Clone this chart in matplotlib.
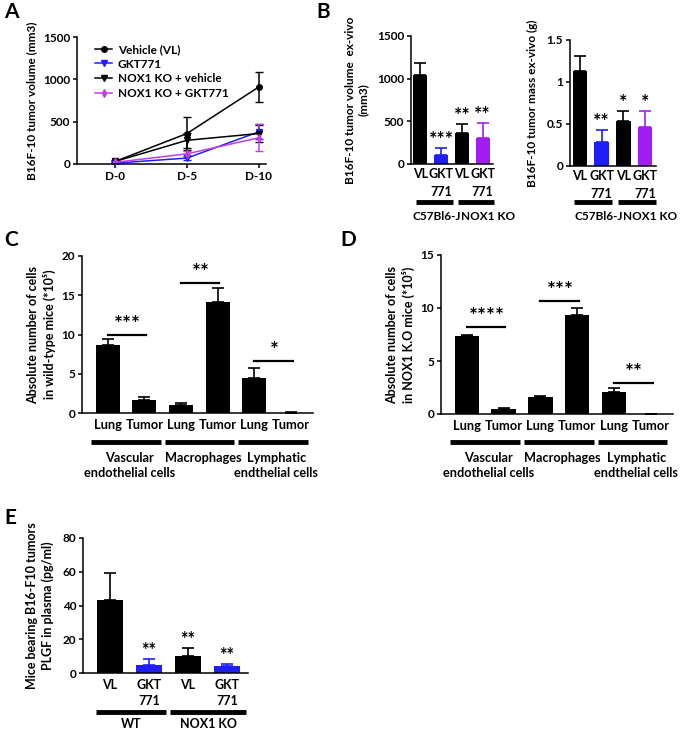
import matplotlib.pyplot as plt
import matplotlib.transforms as mtrans
from matplotlib.lines import Line2D
import numpy as np

# figuren er 681x731 piksler
W, H = 681, 731
plt.rcParams['font.family'] = ['Lato', 'DejaVu Sans']
plt.rcParams['font.weight'] = 'bold'
plt.rcParams['axes.labelweight'] = 'bold'
plt.rcParams['font.size'] = 8.5
plt.rcParams['axes.linewidth'] = 1.1

BLUE = '#1f1ff5'
PURPLE = '#a21ef0'
MAGENTA = '#c13fe0'

# --- data ---
# panel A
dager = [0, 5, 10]
dag_etiketter = ['D-0', 'D-5', 'D-10']
vehicle = [30, 360, 910]
vehicle_err = [15, 200, 175]
gkt = [10, 70, 380]
gkt_err = [8, 20, 90]
ko_vehicle = [30, 280, 360]
ko_vehicle_err = [10, 90, 100]
ko_gkt = [20, 120, 310]
ko_gkt_err = [8, 30, 160]

# panel B
b_etiketter = ['VL', 'GKT\n771', 'VL', 'GKT\n771']
b_volum = [1040, 110, 360, 310]
b_volum_err = [145, 80, 105, 170]
b_volum_stjerner = ['', '***', '**', '**']
b_masse = [1.13, 0.28, 0.53, 0.46]
b_masse_err = [0.18, 0.15, 0.13, 0.20]
b_masse_stjerner = ['', '**', '*', '*']
b_farger = ['black', BLUE, 'black', PURPLE]
b_grupper = ['C57Bl6-J', 'NOX1 KO']

# panel C og D
celle_etiketter = ['Lung', 'Tumor', 'Lung', 'Tumor', 'Lung', 'Tumor']
celle_grupper = [['Vascular', 'endothelial cells'], ['Macrophages'], ['Lymphatic', 'endthelial cells']]
c_verdier = [8.6, 1.6, 1.0, 14.1, 4.4, 0.05]
c_err = [0.8, 0.4, 0.3, 1.8, 1.3, 0.05]
c_sig = [(0, 1, 10.0, '***'), (2, 3, 16.6, '**'), (4, 5, 6.6, '*')]
d_verdier = [7.4, 0.5, 1.6, 9.3, 2.1, 0.0]
d_err = [0.05, 0.1, 0.1, 0.7, 0.4, 0.0]
d_sig = [(0, 1, 8.2, '****'), (2, 3, 10.7, '***'), (4, 5, 2.9, '**')]

# panel E
e_etiketter = ['VL', 'GKT\n771', 'VL', 'GKT\n771']
e_verdier = [43, 5, 10, 4]
e_err = [16, 3.5, 5, 1.5]
e_stjerner = ['', '**', '**', '**']
e_farger = ['black', BLUE, 'black', BLUE]
e_grupper = ['WT', 'NOX1 KO']

fig = plt.figure(figsize=(W / 100, H / 100), dpi=100)


def akse(venstre, topp, hoyre, bunn):
    ax = fig.add_axes([venstre / W, 1 - bunn / H, (hoyre - venstre) / W, (bunn - topp) / H])
    ax.spines['top'].set_visible(False)
    ax.spines['right'].set_visible(False)
    ax.tick_params(length=3, width=1.1, pad=2)
    return ax


def pikselY(ax, y):
    # gjør om figur-piksel y til akse-brøk
    bb = ax.get_position()
    return ((1 - y / H) - bb.y0) / bb.height


def stolper(ax, verdier, feil, farger, stjerner, bredde, stjerne_pad, stjerne_fs=14):
    x = np.arange(len(verdier))
    ax.bar(x, verdier, width=bredde, color=farger, edgecolor=farger, linewidth=0)
    for xi, v, e, f, s in zip(x, verdier, feil, farger, stjerner):
        ax.errorbar(xi, v, yerr=[[0], [e]], color=f, capsize=4, elinewidth=1.2, capthick=1.2)
        if s:
            ax.text(xi, v + e + stjerne_pad, s, ha='center', va='bottom', fontsize=stjerne_fs)
    return x


def grupper(ax, par, y_linje, midt, y_tekst, etiketter):
    tr = mtrans.blended_transform_factory(ax.transData, ax.transAxes)
    for a, b in par:
        ax.plot([a, b], [pikselY(ax, y_linje)] * 2, color='black', lw=3.5,
                transform=tr, clip_on=False, solid_capstyle='butt')
    ax.text(midt, pikselY(ax, y_tekst), etiketter[0], ha='right', va='center', transform=tr)
    ax.text(midt, pikselY(ax, y_tekst), etiketter[1], ha='left', va='center', transform=tr)


# ---------- A ----------
axA = akse(77, 37, 266, 164)
serier = [(vehicle, vehicle_err, 'black', 'o', 'Vehicle (VL)'),
          (gkt, gkt_err, BLUE, 'v', 'GKT771'),
          (ko_vehicle, ko_vehicle_err, 'black', 'v', 'NOX1 KO + vehicle'),
          (ko_gkt, ko_gkt_err, MAGENTA, 'd', 'NOX1 KO + GKT771')]
handles = []
for y, e, c, m, navn in serier:
    axA.errorbar(dager, y, yerr=e, color=c, marker=m, ms=4, capsize=3, lw=1.1)
    handles.append(Line2D([], [], color=c, marker=m, ms=4, lw=1.1, label=navn))
axA.set_ylim(0, 1500)
axA.set_yticks([0, 500, 1000, 1500])
axA.set_xlim(-2.65, 10.5)
axA.set_xticks(dager)
axA.set_xticklabels(dag_etiketter)
axA.set_ylabel('B16F-10 tumor volume (mm3)', labelpad=4)
axA.legend(handles=handles, loc='upper left', bbox_to_anchor=(0.06, 1.0), frameon=False,
           handlelength=1.4, handletextpad=0.5, labelspacing=0.3, fontsize=8.5, borderaxespad=0.2)

# ---------- B venstre ----------
axB1 = akse(411, 36, 493, 164)
xb = stolper(axB1, b_volum, b_volum_err, b_farger, b_volum_stjerner, 0.68, 0)
axB1.set_ylim(0, 1500)
axB1.set_yticks([0, 500, 1000, 1500])
axB1.set_xlim(-0.45, 3.5)
axB1.set_xticks(xb)
axB1.set_xticklabels(b_etiketter, linespacing=1.6, fontsize=9)
axB1.tick_params(axis='x', length=0, pad=3)
axB1.set_ylabel('B16F-10 tumor volume  ex-vivo\n(mm3)', labelpad=6)
grupper(axB1, [(-0.2, 1.55), (1.8, 3.55)], 202, 1.95, 216, b_grupper)

# ---------- B høyre ----------
axB2 = akse(570, 40, 656, 166)
xb2 = stolper(axB2, b_masse, b_masse_err, b_farger, b_masse_stjerner, 0.66, 0)
axB2.set_ylim(0, 1.5)
axB2.set_yticks([0, 0.5, 1, 1.5])
axB2.set_yticklabels(['0', '0.5', '1', '1.5'])
axB2.set_xlim(-0.45, 3.5)
axB2.set_xticks(xb2)
axB2.set_xticklabels(b_etiketter, linespacing=1.6, fontsize=9)
axB2.tick_params(axis='x', length=0, pad=3)
axB2.set_ylabel('B16F-10 tumor mass ex-vivo (g)', labelpad=6)
grupper(axB2, [(-0.25, 1.5), (1.75, 3.5)], 202, 2.0, 216, b_grupper)


# ---------- C og D ----------
def cellepanel(ax, verdier, feil, sig, ymax, ystep, ylabel):
    x = stolper(ax, verdier, feil, ['black'] * 6, [''] * 6, 0.66, 0)
    ax.set_ylim(0, ymax)
    ax.set_yticks(np.arange(0, ymax + 1, ystep))
    ax.set_xlim(-0.7, 5.6)
    ax.set_xticks(x)
    ax.set_xticklabels(celle_etiketter, fontsize=9.3)
    ax.tick_params(axis='x', length=0, pad=4)
    ax.set_ylabel(ylabel, labelpad=4, fontsize=9, linespacing=1.3)
    for a, b, y, s in sig:
        ax.plot([a, b + 0.05], [y, y], color='black', lw=1.6)
        ax.text((a + b) / 2 + 0.05, y, s, ha='center', va='bottom', fontsize=15)
    tr = mtrans.blended_transform_factory(ax.transData, ax.transAxes)
    for g in range(3):
        ax.plot([2 * g - 0.45, 2 * g + 1.45], [pikselY(ax, 442)] * 2, color='black', lw=3.5,
                transform=tr, clip_on=False, solid_capstyle='butt')
        for k, linje in enumerate(celle_grupper[g]):
            ax.text(2 * g + 0.6, pikselY(ax, 458 + 15 * k), linje, ha='center', va='center',
                    fontsize=9.2, transform=tr)


axC = akse(82, 256, 313, 413)
cellepanel(axC, c_verdier, c_err, c_sig, 20, 5,
           'Absolute number of cells\nin wild-type mice (*10\u2075)')
axD = akse(441, 255, 673, 414)
cellepanel(axD, d_verdier, d_err, d_sig, 15, 5,
           'Absolute number of cells\nin NOX1 K.O mice (*10\u2075)')

# ---------- E ----------
axE = akse(83, 538, 248, 673)
xe = stolper(axE, e_verdier, e_err, e_farger, e_stjerner, 0.68, 0, stjerne_fs=13)
axE.set_ylim(0, 80)
axE.set_yticks([0, 20, 40, 60, 80])
axE.set_xlim(-0.69, 3.54)
axE.set_xticks(xe)
axE.set_xticklabels(e_etiketter, linespacing=1.45, fontsize=9)
axE.tick_params(axis='x', length=0, pad=4)
axE.set_ylabel('Mice bearing B16-F10 tumors\nPLGF in plasma (pg/ml)', labelpad=6,
               fontsize=9, linespacing=1.3)
trE = mtrans.blended_transform_factory(axE.transData, axE.transAxes)
for g, (a, b) in enumerate([(-0.35, 1.45), (1.55, 3.5)]):
    axE.plot([a, b], [pikselY(axE, 712)] * 2, color='black', lw=3.5, transform=trE,
             clip_on=False, solid_capstyle='butt')
    axE.text((a + b) / 2, pikselY(axE, 724), e_grupper[g], ha='center', va='center',
             transform=trE, fontsize=9)

# panelbokstaver
for bokstav, px, py in [('A', 4, 12), ('B', 316, 12), ('C', 4, 240), ('D', 340, 240), ('E', 4, 518)]:
    fig.text(px / W, 1 - py / H, bokstav, fontsize=15, fontweight='bold', va='center', ha='left')

fig.savefig('out.png', dpi=100)
